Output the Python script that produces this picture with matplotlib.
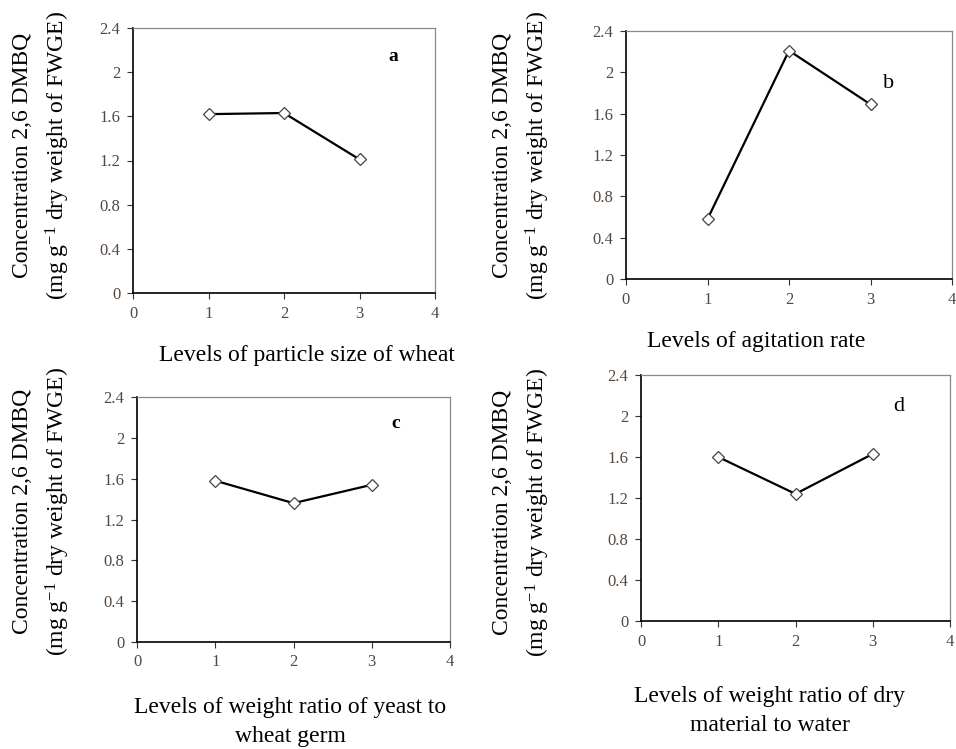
import matplotlib
matplotlib.use("Agg")
import matplotlib.pyplot as plt

plt.rcParams["font.family"] = ["Liberation Serif", "DejaVu Serif"]
plt.rcParams["mathtext.fontset"] = "custom"
plt.rcParams["mathtext.rm"] = "Liberation Serif"
plt.rcParams["mathtext.it"] = "Liberation Serif:italic"

# datos ---------------------------------------------------------------

niveles = [1, 2, 3]
conc_a = [1.62, 1.63, 1.21]   # tamaño de partícula
conc_b = [0.58, 2.21, 1.69]   # velocidad de agitación
conc_c = [1.58, 1.36, 1.54]   # relación levadura / germen
conc_d = [1.60, 1.24, 1.63]   # relación materia seca / agua

yticks = [0, 0.4, 0.8, 1.2, 1.6, 2.0, 2.4]
ytick_labels = ["0", "0.4", "0.8", "1.2", "1.6", "2", "2.4"]
xticks = [0, 1, 2, 3, 4]

etiquetas = ["a", "b", "c", "d"]
xlabels = [
    "Levels of particle size of wheat",
    "Levels of agitation rate",
    "Levels of weight ratio of yeast to\nwheat germ",
    "Levels of weight ratio of dry\nmaterial to water",
]
ylabel = "Concentration 2,6 DMBQ\n(mg g$^{-1}$ dry weight of FWGE)"

# disposición en píxeles ----------------------------------------------

W, H = 956, 749
cajas = [(133, 28, 435, 293), (626, 31, 952, 279),
         (137, 397, 450, 642), (641, 375, 950, 621)]
pos_letra = [(3.38, 2.10, "bold", 14), (3.15, 1.85, "normal", 16),
             (3.25, 2.10, "bold", 14), (3.26, 2.05, "normal", 16)]
pos_xlabel = [(307, 355), (756, 341), (290, 722), (770, 711)]
pos_ylabel = [(42, 155), (522, 155), (42, 511), (522, 512)]

fig = plt.figure(figsize=(W / 100, H / 100), dpi=100)

tick_color = "#54483f"

for i, (serie, caja) in enumerate(zip([conc_a, conc_b, conc_c, conc_d], cajas)):
    x0, y0, x1, y1 = caja
    ax = fig.add_axes([x0 / W, 1 - y1 / H, (x1 - x0) / W, (y1 - y0) / H])
    ax.plot(niveles, serie, color="black", lw=1.6, marker="D", ms=6,
            mfc="white", mec="#444444", mew=0.9)
    ax.set_xlim(0, 4)
    ax.set_ylim(0, 2.4)
    ax.set_xticks(xticks)
    ax.set_yticks(yticks)
    ax.set_yticklabels(ytick_labels)
    ax.tick_params(direction="out", length=4, width=0.8, labelsize=12,
                   labelcolor=tick_color, color="#333333", pad=5)
    for lado in ["top", "right"]:
        ax.spines[lado].set_color("#888888")
        ax.spines[lado].set_linewidth(0.9)
    for lado in ["left", "bottom"]:
        ax.spines[lado].set_color("black")
        ax.spines[lado].set_linewidth(1.2)
    lx, ly, peso, tam = pos_letra[i]
    ax.text(lx, ly, etiquetas[i], fontsize=tam, fontweight=peso)

    xl, yl = pos_xlabel[i]
    fig.text(xl / W, 1 - yl / H, xlabels[i], ha="center", va="center",
             fontsize=17, linespacing=1.45)
    xl, yl = pos_ylabel[i]
    fig.text(xl / W, 1 - yl / H, ylabel, ha="center", va="center",
             rotation=90, fontsize=17, linespacing=1.5, multialignment="center")

fig.savefig("out.png", dpi=100)
